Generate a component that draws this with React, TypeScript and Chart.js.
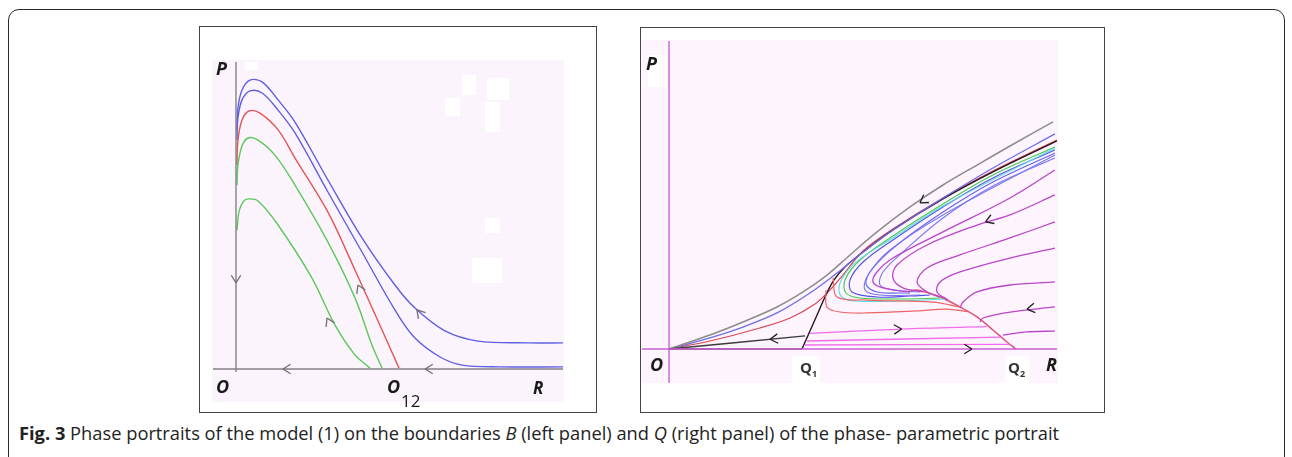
import React, { useEffect, useRef } from "react";
import { Chart, registerables } from "chart.js";

Chart.register(...registerables);

type Pt = [number, number];
type Arrow = { x: number; y: number; dx: number; dy: number };

// ---------------- Left panel (boundary B): trajectories in (R, P) ----------------
const leftBlueOuter: Pt[] = [[0.006, 0.797], [0.012, 0.87], [0.037, 0.93], [0.086, 0.963], [0.16, 0.957], [0.258, 0.897], [0.362, 0.823], [0.564, 0.63], [0.773, 0.437], [0.975, 0.28], [1.098, 0.203], [1.282, 0.127], [1.485, 0.093], [1.791, 0.087], [2.006, 0.087]];
const leftBlueInner: Pt[] = [[0.006, 0.763], [0.012, 0.837], [0.037, 0.897], [0.086, 0.927], [0.16, 0.92], [0.258, 0.863], [0.362, 0.787], [0.564, 0.59], [0.773, 0.39], [0.975, 0.197], [1.098, 0.103], [1.252, 0.04], [1.387, 0.013], [1.62, 0.007], [2.006, 0.007]];
const leftRed: Pt[] = [[0.006, 0.68], [0.012, 0.763], [0.037, 0.83], [0.08, 0.86], [0.147, 0.853], [0.258, 0.797], [0.362, 0.703], [0.564, 0.523], [0.73, 0.33], [0.896, 0.13], [1.0, 0.003]];
const leftGreenUpper: Pt[] = [[0.006, 0.613], [0.012, 0.68], [0.037, 0.743], [0.074, 0.77], [0.135, 0.763], [0.239, 0.713], [0.362, 0.613], [0.564, 0.423], [0.73, 0.237], [0.834, 0.08], [0.896, 0.003]];
const leftGreenLower: Pt[] = [[0.006, 0.463], [0.018, 0.523], [0.043, 0.557], [0.074, 0.567], [0.135, 0.56], [0.258, 0.48], [0.466, 0.303], [0.607, 0.147], [0.73, 0.047], [0.822, 0.003]];
const leftAxisR: Pt[] = [[-0.141, 0], [2.006, 0]];
const leftAxisP: Pt[] = [[0, 1.023], [0, -0.01]];
const leftArrows: Arrow[] = [
  { x: 0, y: 0.287, dx: 0, dy: -1 },
  { x: 0.288, y: 0, dx: -1, dy: 0 },
  { x: 1.16, y: 0, dx: -1, dy: 0 },
  { x: 1.11, y: 0.197, dx: -0.123, dy: 0.077 },
  { x: 0.748, y: 0.28, dx: -0.166, dy: 0.2 },
  { x: 0.558, y: 0.17, dx: -0.141, dy: 0.157 },
];

// ---------------- Right panel (boundary Q): trajectories in (R, P) ----------------
const rightGray: Pt[] = [[0, 0], [0.308, 0.105], [0.556, 0.203], [0.812, 0.316], [1.008, 0.429], [1.188, 0.556], [1.361, 0.707], [1.564, 0.88], [1.812, 1.068], [2.06, 1.233], [2.316, 1.383], [2.564, 1.526], [2.887, 1.707]];
const rightBlueTop: Pt[] = [[0, 0], [0.308, 0.083], [0.556, 0.165], [0.812, 0.271], [1.06, 0.421], [1.263, 0.571], [1.459, 0.729], [1.684, 0.895], [2.06, 1.135], [2.436, 1.361], [2.902, 1.617]];
const rightRedTop: Pt[] = [[0, 0], [0.308, 0.06], [0.684, 0.158], [0.91, 0.233], [1.098, 0.338], [1.211, 0.444], [1.308, 0.556], [1.459, 0.737], [1.684, 0.902], [2.06, 1.135], [2.436, 1.338], [2.917, 1.571]];
const rightSeparatrix: Pt[] = [[1.0, 0], [1.06, 0.135], [1.12, 0.271], [1.18, 0.406], [1.241, 0.519], [1.323, 0.617], [1.459, 0.729], [1.684, 0.895], [2.06, 1.128], [2.436, 1.331], [2.917, 1.564]];
const rightArc: Pt[] = [[1.8, 0.43], [1.865, 0.444], [2.038, 0.391], [2.188, 0.316], [2.316, 0.241], [2.436, 0.143], [2.541, 0.053], [2.609, 0]];
const rightBundleBlueA: Pt[] = [[2.902, 1.496], [2.436, 1.286], [2.06, 1.068], [1.684, 0.82], [1.459, 0.654], [1.361, 0.519], [1.376, 0.429], [1.564, 0.391], [1.812, 0.398], [1.962, 0.406]];
const rightBundleGreen: Pt[] = [[2.902, 1.519], [2.436, 1.308], [2.06, 1.09], [1.684, 0.85], [1.436, 0.669], [1.323, 0.519], [1.331, 0.421], [1.436, 0.383], [1.737, 0.376], [2.038, 0.383]];
const rightBundleCyan: Pt[] = [[2.902, 1.511], [2.06, 1.075], [1.684, 0.835], [1.398, 0.647], [1.286, 0.496], [1.293, 0.398], [1.398, 0.361], [1.737, 0.361], [2.075, 0.376]];
const rightBundleBlueB: Pt[] = [[2.902, 1.474], [2.436, 1.256], [2.06, 1.03], [1.714, 0.782], [1.534, 0.609], [1.481, 0.489], [1.564, 0.429], [1.812, 0.421]];
const rightBundleBlueC: Pt[] = [[2.902, 1.436], [2.436, 1.226], [2.06, 0.985], [1.759, 0.729], [1.609, 0.579], [1.586, 0.481], [1.684, 0.444], [1.887, 0.429]];
const rightBundleBlueD: Pt[] = [[2.902, 1.459], [2.06, 1.008], [1.662, 0.744], [1.496, 0.556], [1.474, 0.444], [1.586, 0.406], [1.887, 0.406]];
const rightRedLow1: Pt[] = [[1.233, 0.534], [1.263, 0.391], [1.489, 0.368], [1.985, 0.353], [2.188, 0.316]];
const rightRedLow2: Pt[] = [[1.18, 0.444], [1.188, 0.316], [1.286, 0.278], [1.489, 0.271], [1.865, 0.286], [2.09, 0.3], [2.25, 0.28]];
const rightPink1: Pt[] = [[1.06, 0.118], [1.75, 0.15], [2.39, 0.168]];
const rightPink2: Pt[] = [[1.038, 0.06], [2.5, 0.09]];
const rightPink3: Pt[] = [[1.023, 0.03], [2.56, 0.035]];
const rightPurple1: Pt[] = [[2.902, 1.346], [2.564, 1.135], [2.06, 0.88], [1.684, 0.684], [1.564, 0.579], [1.534, 0.504], [1.609, 0.459], [1.812, 0.429]];
const rightPurple2: Pt[] = [[2.902, 1.158], [2.564, 1.008], [2.316, 0.932], [1.94, 0.782], [1.714, 0.632], [1.684, 0.534], [1.759, 0.459], [1.91, 0.429]];
const rightPurple3: Pt[] = [[2.902, 0.955], [2.564, 0.835], [2.188, 0.707], [1.94, 0.609], [1.865, 0.504], [1.94, 0.429], [2.038, 0.391]];
const rightPurple4: Pt[] = [[2.902, 0.759], [2.564, 0.684], [2.188, 0.579], [2.038, 0.504], [2.015, 0.429], [2.098, 0.368]];
const rightPurple5: Pt[] = [[2.902, 0.504], [2.564, 0.481], [2.316, 0.429], [2.211, 0.353], [2.188, 0.308]];
const rightPurple6: Pt[] = [[2.902, 0.316], [2.564, 0.278], [2.361, 0.233], [2.338, 0.203]];
const rightPurple7: Pt[] = [[2.902, 0.135], [2.692, 0.128], [2.511, 0.105]];
const rightBlackUpper: Pt[] = [[0, 0], [1.023, 0.098]];
const rightBlackAxis: Pt[] = [[0, 0], [1.0, 0]];
const rightAxisR: Pt[] = [[-0.21, 0], [2.917, 0]];
const rightAxisP: Pt[] = [[0, 2.316], [0, -0.256]];
const rightArrows: Arrow[] = [
  { x: 1.887, y: 1.098, dx: -1, dy: -0.68 },
  { x: 2.38, y: 0.955, dx: -1, dy: -0.4 },
  { x: 2.692, y: 0.3, dx: -1, dy: -0.15 },
  { x: 0.76, y: 0.073, dx: -1, dy: -0.096 },
  { x: 1.75, y: 0.15, dx: 1, dy: 0.05 },
  { x: 2.278, y: 0, dx: 1, dy: 0 },
];

type Series = { data: Pt[]; color: string; width: number };

const leftSeries: Series[] = [
  { data: leftAxisR, color: "rgb(130,130,130)", width: 1.4 },
  { data: leftAxisP, color: "rgb(130,130,130)", width: 1.4 },
  { data: leftGreenLower, color: "rgb(90,200,90)", width: 1.4 },
  { data: leftGreenUpper, color: "rgb(90,200,90)", width: 1.4 },
  { data: leftRed, color: "rgb(225,85,85)", width: 1.4 },
  { data: leftBlueInner, color: "rgb(95,95,225)", width: 1.4 },
  { data: leftBlueOuter, color: "rgb(95,95,225)", width: 1.4 },
];

const rightSeries: Series[] = [
  { data: rightAxisR, color: "rgb(200,95,210)", width: 1.4 },
  { data: rightAxisP, color: "rgb(200,95,210)", width: 1.4 },
  { data: rightBlackAxis, color: "rgb(90,70,90)", width: 1.6 },
  { data: rightBlackUpper, color: "rgb(60,60,60)", width: 1.3 },
  { data: rightPink1, color: "rgb(240,110,235)", width: 1.3 },
  { data: rightPink2, color: "rgb(240,110,235)", width: 1.3 },
  { data: rightPink3, color: "rgb(240,110,235)", width: 1.3 },
  { data: rightPurple1, color: "rgb(185,70,200)", width: 1.3 },
  { data: rightPurple2, color: "rgb(185,70,200)", width: 1.3 },
  { data: rightPurple3, color: "rgb(185,70,200)", width: 1.3 },
  { data: rightPurple4, color: "rgb(185,70,200)", width: 1.3 },
  { data: rightPurple5, color: "rgb(185,70,200)", width: 1.3 },
  { data: rightPurple6, color: "rgb(185,70,200)", width: 1.3 },
  { data: rightPurple7, color: "rgb(185,70,200)", width: 1.3 },
  { data: rightRedLow2, color: "rgb(240,100,100)", width: 1.2 },
  { data: rightRedLow1, color: "rgb(240,100,100)", width: 1.2 },
  { data: rightBundleBlueC, color: "rgb(120,120,240)", width: 1.1 },
  { data: rightBundleBlueD, color: "rgb(120,120,240)", width: 1.1 },
  { data: rightBundleBlueB, color: "rgb(100,100,235)", width: 1.1 },
  { data: rightBundleCyan, color: "rgb(90,220,225)", width: 1.1 },
  { data: rightBundleGreen, color: "rgb(70,200,80)", width: 1.1 },
  { data: rightBundleBlueA, color: "rgb(80,80,230)", width: 1.1 },
  { data: rightArc, color: "rgb(225,80,110)", width: 1.4 },
  { data: rightGray, color: "rgb(140,140,140)", width: 1.5 },
  { data: rightBlueTop, color: "rgb(110,110,235)", width: 1.3 },
  { data: rightSeparatrix, color: "rgb(40,20,30)", width: 1.4 },
  { data: rightRedTop, color: "rgb(220,70,80)", width: 1.2 },
];

type PanelProps = {
  series: Series[];
  arrows: Arrow[];
  arrowColor: string;
  xMin: number;
  xMax: number;
  yMin: number;
  yMax: number;
  width: number;
  height: number;
};

function PhasePanel(props: PanelProps) {
  const ref = useRef<HTMLCanvasElement | null>(null);
  useEffect(() => {
    if (!ref.current) return;
    const arrowPlugin = {
      id: "arrows",
      afterDatasetsDraw(chart: any) {
        const ctx = chart.ctx;
        const xs = chart.scales.x;
        const ys = chart.scales.y;
        ctx.save();
        ctx.strokeStyle = props.arrowColor;
        ctx.lineWidth = 1.3;
        for (const a of props.arrows) {
          const px = xs.getPixelForValue(a.x);
          const py = ys.getPixelForValue(a.y);
          const qx = xs.getPixelForValue(a.x + a.dx * 0.01) - px;
          const qy = ys.getPixelForValue(a.y + a.dy * 0.01) - py;
          const len = Math.hypot(qx, qy) || 1;
          const ux = qx / len;
          const uy = qy / len;
          const L = 9;
          const ang = 0.55;
          ctx.beginPath();
          for (const s of [-1, 1]) {
            const c = Math.cos(s * ang);
            const sn = Math.sin(s * ang);
            const bx = -(ux * c - uy * sn);
            const by = -(ux * sn + uy * c);
            ctx.moveTo(px, py);
            ctx.lineTo(px + bx * L, py + by * L);
          }
          ctx.stroke();
        }
        ctx.restore();
      },
    };
    const chart = new Chart(ref.current, {
      type: "scatter",
      data: {
        datasets: props.series.map((s) => ({
          data: s.data.map(([x, y]) => ({ x, y })),
          showLine: true,
          borderColor: s.color,
          backgroundColor: s.color,
          borderWidth: s.width,
          pointRadius: 0,
          tension: 0.35,
          fill: false,
        })),
      },
      options: {
        animation: false,
        responsive: false,
        maintainAspectRatio: false,
        devicePixelRatio: 1,
        events: [],
        layout: { padding: 0 },
        plugins: { legend: { display: false }, tooltip: { enabled: false } },
        scales: {
          x: { type: "linear", min: props.xMin, max: props.xMax, display: false },
          y: { type: "linear", min: props.yMin, max: props.yMax, display: false },
        },
      },
      plugins: [arrowPlugin],
    } as any);
    return () => chart.destroy();
  }, []);
  return <canvas ref={ref} width={props.width} height={props.height} style={{ display: "block" }} />;
}

const labelFont = '"Open Sans", "DejaVu Sans", sans-serif';

function Label(p: { left: number; top: number; text: string; size: number; italic?: boolean; weight?: number }) {
  return (
    <span
      style={{
        position: "absolute",
        left: p.left,
        top: p.top,
        fontFamily: labelFont,
        fontSize: p.size,
        lineHeight: 1,
        fontStyle: p.italic ? "italic" : "normal",
        fontWeight: p.weight ?? 700,
        color: "#1a1a1a",
        whiteSpace: "nowrap",
      }}
    >
      {p.text}
    </span>
  );
}

function WhiteBox(p: { l: number; t: number; w: number; h: number }) {
  return <div style={{ position: "absolute", left: p.l, top: p.t, width: p.w, height: p.h, background: "#fff" }} />;
}

export default function App() {
  return (
    <div style={{ position: "absolute", left: 0, top: 0, width: 1292, height: 457, overflow: "hidden", background: "#fff" }}>
      <div
        style={{
          position: "absolute",
          left: 8,
          top: 9,
          width: 1275,
          height: 480,
          border: "1.5px solid #2a2a2a",
          borderRadius: 11,
        }}
      />
      {/* Left panel */}
      <div style={{ position: "absolute", left: 199, top: 26, width: 396, height: 385, border: "1.5px solid #444" }} />
      <div style={{ position: "absolute", left: 212, top: 60, background: "rgb(252,244,252)" }}>
        <PhasePanel
          series={leftSeries}
          arrows={leftArrows}
          arrowColor="rgb(110,110,110)"
          xMin={-0.1472}
          xMax={2.0123}
          yMin={-0.11}
          yMax={1.03}
          width={352}
          height={342}
        />
      </div>
      <WhiteBox l={462} t={75} w={14} h={20} />
      <WhiteBox l={487} t={78} w={22} h={22} />
      <WhiteBox l={445} t={98} w={15} h={18} />
      <WhiteBox l={485} t={102} w={15} h={30} />
      <WhiteBox l={485} t={218} w={15} h={15} />
      <WhiteBox l={472} t={258} w={30} h={25} />
      <WhiteBox l={245} t={62} w={13} h={8} />
      <Label left={216} top={59} text="P" size={18} italic />
      <Label left={216} top={377} text="O" size={18} italic />
      <Label left={387} top={377} text="O" size={18} italic />
      <Label left={401} top={392} text="12" size={17} weight={400} />
      <Label left={533} top={379} text="R" size={17} italic />

      {/* Right panel */}
      <div style={{ position: "absolute", left: 640, top: 27, width: 463, height: 384, border: "1.5px solid #444" }} />
      <div style={{ position: "absolute", left: 642, top: 40, background: "rgb(253,244,253)" }}>
        <PhasePanel
          series={rightSeries}
          arrows={rightArrows}
          arrowColor="rgb(30,30,30)"
          xMin={-0.203}
          xMax={2.925}
          yMin={-0.2556}
          yMax={2.323}
          width={416}
          height={343}
        />
      </div>
      <WhiteBox l={648} t={55} w={17} h={32} />
      <WhiteBox l={792} t={356} w={28} h={27} />
      <WhiteBox l={1005} t={356} w={24} h={27} />
      <Label left={646} top={54} text="P" size={18} italic />
      <Label left={650} top={355} text="O" size={18} italic />
      <span style={{ position: "absolute", left: 800, top: 360, fontFamily: labelFont, fontSize: 15, lineHeight: 1, fontWeight: 700, color: "#333" }}>
        Q<sub style={{ fontSize: 9 }}>1</sub>
      </span>
      <span style={{ position: "absolute", left: 1008, top: 360, fontFamily: labelFont, fontSize: 15, lineHeight: 1, fontWeight: 700, color: "#333" }}>
        Q<sub style={{ fontSize: 9 }}>2</sub>
      </span>
      <Label left={1046} top={355} text="R" size={18} italic />

      {/* Caption */}
      <div
        style={{
          position: "absolute",
          left: 19,
          top: 424,
          fontFamily: labelFont,
          fontSize: 18.3,
          lineHeight: 1,
          color: "#222",
          whiteSpace: "nowrap",
        }}
      >
        <b>Fig. 3</b> Phase portraits of the model (1) on the boundaries <i>B</i> (left panel) and <i>Q</i> (right panel) of the phase- parametric portrait
      </div>
    </div>
  );
}
